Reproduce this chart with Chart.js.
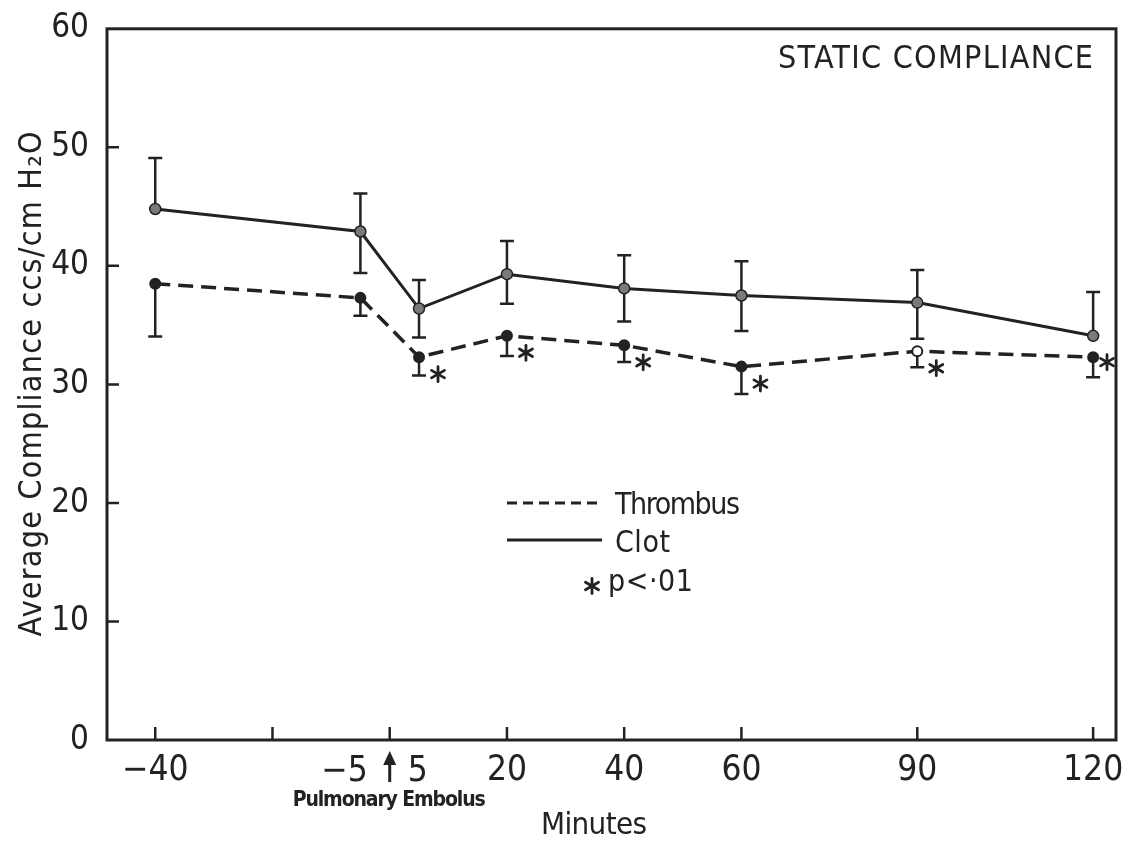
<!DOCTYPE html>
<html>
<head>
<meta charset="utf-8">
<script src="https://cdn.jsdelivr.net/npm/chart.js@4/dist/chart.umd.min.js"></script>
<style>
  html, body { margin: 0; padding: 0; background: #fff; }
  canvas { display: block; }
</style>
</head>
<body>
<canvas id="chart" width="1129" height="849"></canvas>
<script>
// Minutes relative to the embolus
const minutes = [-40, -5, 5, 20, 40, 60, 90, 120];

// Clot (solid line), mean and error bar lengths
const clotMean = [44.8, 42.9, 36.4, 39.3, 38.1, 37.5, 36.9, 34.1];
const clotErrUp = [4.3, 3.2, 2.4, 2.8, 2.8, 2.9, 2.75, 3.7];
const clotErrDown = [0, 3.5, 2.45, 2.5, 2.8, 3.0, 3.05, 0];

// Thrombus (dashed line)
const thrombusMean = [38.5, 37.3, 32.3, 34.1, 33.3, 31.5, 32.8, 32.3];
const thrombusErrDown = [4.45, 1.5, 1.55, 1.7, 1.4, 2.3, 1.35, 1.7];
const thrombusOpen = [false, false, false, false, false, false, true, false];

// p < .01 marks
const significant = [false, false, true, true, true, true, true, true];

// Axis ticks
const xTicks = [-40, -20, 0, 20, 40, 60, 90, 120];
const xTickLabels = ['\u221240', '', '', '20', '40', '60', '90', '120'];
const yTicks = [0, 10, 20, 30, 40, 50, 60];

const FONT = "'Liberation Sans Narrow', 'DejaVu Sans Condensed', sans-serif";
const INK = '#222';

// text fitted to a given width with letter spacing
function fitText(ctx, text, left, y, width) {
  ctx.letterSpacing = '0px';
  const w = ctx.measureText(text).width;
  const n = [...text].length;
  const ls = n > 1 ? (width - w) / (n - 1) : 0;
  ctx.letterSpacing = ls + 'px';
  ctx.textAlign = 'left';
  ctx.fillText(text, left, y);
  ctx.letterSpacing = '0px';
}

function asterisk(ctx, x, y, r) {
  ctx.save();
  ctx.strokeStyle = INK;
  ctx.lineWidth = 2.8;
  ctx.lineCap = 'round';
  for (let k = 0; k < 3; k++) {
    const a = Math.PI / 2 + k * Math.PI / 3;
    ctx.beginPath();
    ctx.moveTo(x - r * Math.cos(a), y - r * Math.sin(a));
    ctx.lineTo(x + r * Math.cos(a), y + r * Math.sin(a));
    ctx.stroke();
  }
  ctx.restore();
}

function errBar(ctx, x, y1, y2, cap) {
  ctx.beginPath();
  ctx.moveTo(x, y1); ctx.lineTo(x, y2);
  ctx.moveTo(x - cap / 2, y2); ctx.lineTo(x + cap / 2, y2);
  ctx.stroke();
}

const errorBars = {
  id: 'errorBars',
  beforeDatasetsDraw(chart) {
    const { ctx, scales: { x, y } } = chart;
    ctx.save();
    ctx.strokeStyle = INK;
    ctx.lineWidth = 2.5;
    minutes.forEach((m, i) => {
      const px = x.getPixelForValue(m);
      const py = y.getPixelForValue(clotMean[i]);
      if (clotErrUp[i] > 0) errBar(ctx, px, py, y.getPixelForValue(clotMean[i] + clotErrUp[i]), 14);
      if (clotErrDown[i] > 0) errBar(ctx, px, py, y.getPixelForValue(clotMean[i] - clotErrDown[i]), 14);
      const ty = y.getPixelForValue(thrombusMean[i]);
      errBar(ctx, px, ty + 4, y.getPixelForValue(thrombusMean[i] - thrombusErrDown[i]), 14);
    });
    ctx.restore();
  },
  afterDraw(chart) {
    const { ctx, chartArea: a, scales: { x, y } } = chart;
    ctx.save();
    // frame
    ctx.strokeStyle = INK;
    ctx.lineWidth = 3;
    ctx.strokeRect(a.left + 1, a.top, a.right - a.left - 1, a.bottom - a.top);
    // inward tick marks
    ctx.lineWidth = 2.5;
    ctx.beginPath();
    xTicks.forEach(v => {
      const px = x.getPixelForValue(v);
      ctx.moveTo(px, a.bottom); ctx.lineTo(px, a.bottom - 13);
    });
    yTicks.slice(1, -1).forEach(v => {
      const py = y.getPixelForValue(v);
      ctx.moveTo(a.left, py); ctx.lineTo(a.left + 13, py);
    });
    ctx.stroke();

    // significance marks
    minutes.forEach((m, i) => {
      if (!significant[i]) return;
      const px = x.getPixelForValue(m);
      const py = y.getPixelForValue(thrombusMean[i]);
      let sx = px + 19, sy = py + 17;
      if (sx > a.right - 9) { sx = a.right - 9; sy = py + 5; }
      asterisk(ctx, sx, sy, 7.5);
    });

    ctx.fillStyle = INK;
    ctx.textBaseline = 'alphabetic';

    // embolus arrow and labels
    const x0 = x.getPixelForValue(0);
    ctx.lineWidth = 3;
    ctx.beginPath();
    ctx.moveTo(x0, 760); ctx.lineTo(x0, 782);
    ctx.stroke();
    ctx.beginPath();
    ctx.moveTo(x0, 751); ctx.lineTo(x0 - 6.5, 765); ctx.lineTo(x0 + 6.5, 765);
    ctx.closePath(); ctx.fill();
    ctx.font = '35px ' + FONT;
    ctx.textAlign = 'right';
    ctx.fillText('\u22125', x0 - 22, 781);
    ctx.textAlign = 'left';
    ctx.fillText('5', x0 + 18, 781);
    ctx.font = 'bold 21px ' + FONT;
    fitText(ctx, 'Pulmonary Embolus', x0 - 97, 806, 193);

    // axis titles
    ctx.font = '31px ' + FONT;
    fitText(ctx, 'Minutes', 541, 834, 106);
    ctx.save();
    ctx.translate(41, (a.top + a.bottom) / 2);
    ctx.rotate(-Math.PI / 2);
    ctx.font = '32px ' + FONT;
    fitText(ctx, 'Average Compliance ccs/cm H\u2082O', -252, 0, 505);
    ctx.restore();

    // panel title
    ctx.font = '32px ' + FONT;
    fitText(ctx, 'STATIC COMPLIANCE', 778, 68, 315);

    // legend
    ctx.lineWidth = 3;
    ctx.setLineDash([10, 6]);
    ctx.beginPath(); ctx.moveTo(507, 503); ctx.lineTo(601, 503); ctx.stroke();
    ctx.setLineDash([]);
    ctx.beginPath(); ctx.moveTo(507, 540); ctx.lineTo(602, 540); ctx.stroke();
    asterisk(ctx, 592, 586, 7.5);
    ctx.font = '30px ' + FONT;
    fitText(ctx, 'Thrombus', 615, 514, 125);
    fitText(ctx, 'Clot', 615, 552, 55);
    fitText(ctx, 'p<\u00b701', 608, 591, 85);
    ctx.restore();
  }
};

new Chart(document.getElementById('chart'), {
  type: 'line',
  data: {
    datasets: [
      {
        label: 'Clot',
        data: minutes.map((m, i) => ({ x: m, y: clotMean[i] })),
        borderColor: INK,
        borderWidth: 3,
        pointRadius: 5.5,
        pointBackgroundColor: '#7a7a7a',
        pointBorderColor: INK,
        pointBorderWidth: 1.5,
        tension: 0
      },
      {
        label: 'Thrombus',
        data: minutes.map((m, i) => ({ x: m, y: thrombusMean[i] })),
        borderColor: INK,
        borderWidth: 3.5,
        borderDash: [15, 8],
        pointRadius: 5,
        pointBackgroundColor: thrombusOpen.map(o => (o ? '#fff' : INK)),
        pointBorderColor: INK,
        pointBorderWidth: 2,
        tension: 0
      }
    ]
  },
  options: {
    responsive: false,
    animation: false,
    devicePixelRatio: 1,
    layout: { padding: { top: 24, right: 13, left: 0, bottom: 0 } },
    plugins: { legend: { display: false }, tooltip: { enabled: false } },
    scales: {
      x: {
        type: 'linear',
        min: -48.4,
        max: 123.9,
        afterBuildTicks: s => { s.ticks = xTicks.map(v => ({ value: v })); },
        afterFit: s => { s.height = 109; },
        grid: { display: false },
        border: { display: false },
        ticks: {
          autoSkip: false,
          maxRotation: 0,
          padding: 2,
          color: INK,
          font: { family: FONT, size: 35 },
          callback: (v, i) => xTickLabels[i]
        }
      },
      y: {
        min: 0,
        max: 60,
        afterBuildTicks: s => { s.ticks = yTicks.map(v => ({ value: v })); },
        afterFit: s => { s.width = 106; },
        grid: { display: false },
        border: { display: false },
        ticks: {
          padding: 9,
          color: INK,
          font: { family: FONT, size: 33 }
        }
      }
    }
  },
  plugins: [errorBars]
});
</script>
</body>
</html>
